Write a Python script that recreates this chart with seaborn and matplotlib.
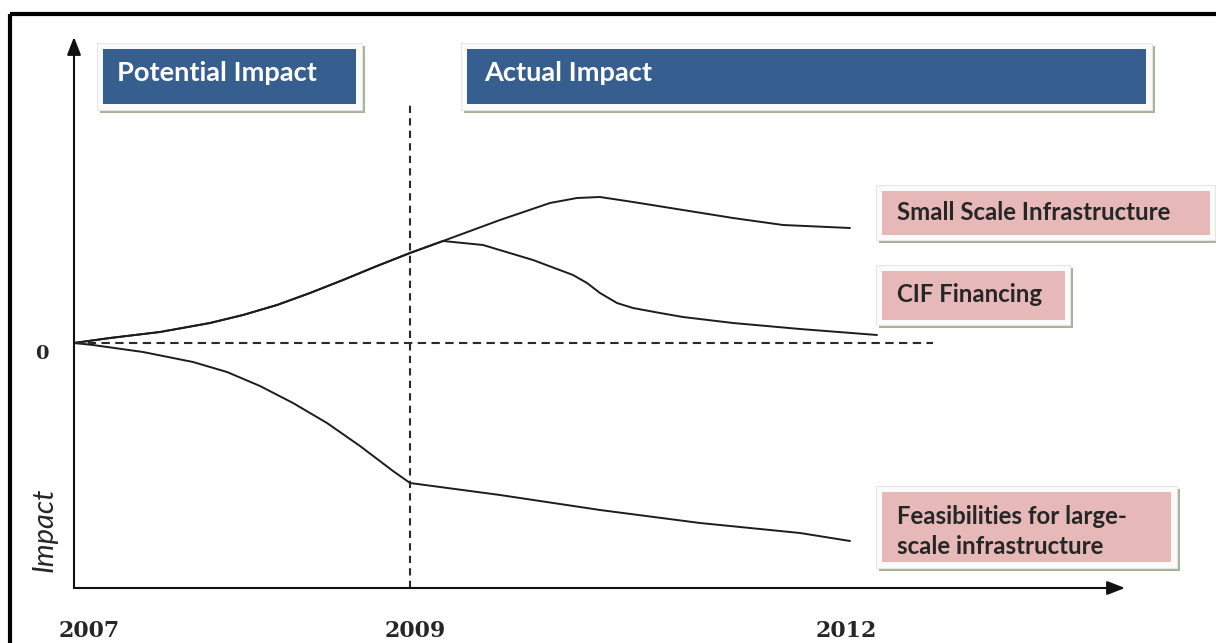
import matplotlib
matplotlib.use("Agg")
import matplotlib.pyplot as plt
from matplotlib.patches import Rectangle
from matplotlib.transforms import Affine2D
import numpy as np
import pandas as pd
import seaborn as sns

# ---- data: conceptual impact paths over time (t = time units from 2007) ----
small_t = [0, 0.36, 0.86, 1.36, 1.69, 2.03, 2.36, 2.69, 3.03, 3.36, 3.69,
           4.26, 4.76, 5.03, 5.26, 5.59, 6.09, 6.59, 7.09, 7.76]
small_v = [0, 0.05, 0.11, 0.20, 0.28, 0.38, 0.50, 0.63, 0.77, 0.90, 1.02,
           1.23, 1.40, 1.45, 1.46, 1.41, 1.33, 1.25, 1.18, 1.15]

cif_t = [0, 0.36, 0.86, 1.36, 1.69, 2.03, 2.36, 2.69, 3.03, 3.36, 3.69,
         4.09, 4.59, 4.99, 5.13, 5.26, 5.43, 5.59, 5.86, 6.09, 6.59, 7.26, 8.03]
cif_v = [0, 0.05, 0.11, 0.20, 0.28, 0.38, 0.50, 0.63, 0.77, 0.90, 1.02,
         0.98, 0.83, 0.68, 0.60, 0.50, 0.40, 0.35, 0.30, 0.26, 0.20, 0.14, 0.08]

feas_t = [0, 0.19, 0.69, 1.19, 1.53, 1.86, 2.19, 2.53, 2.86, 3.19, 3.36,
          4.26, 5.26, 6.26, 7.26, 7.76]
feas_v = [0, -0.02, -0.09, -0.19, -0.29, -0.43, -0.60, -0.80, -1.03, -1.28,
          -1.40, -1.52, -1.67, -1.80, -1.90, -1.98]

series_names = ["Small Scale Infrastructure", "CIF Financing",
                "Feasibilities for large-\nscale infrastructure"]
year_labels = ["2007", "2009", "2012"]
year_pos = [0.15, 3.41, 7.72]
split_t = 3.36          # 2009: potential -> actual
axis_x_end = 10.51
axis_y_top = 3.06
axis_y_bottom = -2.45
zero_end = 8.59

df = pd.concat([
    pd.DataFrame({"t": small_t, "impact": small_v, "series": series_names[0]}),
    pd.DataFrame({"t": cif_t, "impact": cif_v, "series": series_names[1]}),
    pd.DataFrame({"t": feas_t, "impact": feas_v, "series": series_names[2]}),
], ignore_index=True)

sns.set_theme(style="white")
plt.rcParams["font.family"] = ["Lato", "DejaVu Sans"]

W, H = 1216, 643
fig = plt.figure(figsize=(W / 100, H / 100), dpi=100)
ax = fig.add_axes([0, 0, 1, 1])
ax.set_xlim(-0.74, 11.42)
ax.set_ylim(-3.00, 3.43)
ax.axis("off")

# pixel-space transform for the framing and annotation boxes
px = Affine2D().scale(1 / W, -1 / H).translate(0, 1) + fig.transFigure

line_col = "#1c1c1c"
sns.lineplot(data=df, x="t", y="impact", hue="series", sort=False,
             palette={n: line_col for n in series_names}, legend=False,
             linewidth=1.4, ax=ax, estimator=None)

# reference lines
ax.plot([0, zero_end], [0, 0], color="#2a2a2a", lw=1.5, ls=(0, (4, 2.6)))
ax.plot([split_t, split_t], [axis_y_bottom, 2.41], color="#2a2a2a", lw=1.5,
        ls=(0, (3.5, 2.5)))

# axes with arrow heads
arrow = dict(arrowstyle="-|>,head_length=0.9,head_width=0.35", color="#111111",
             lw=1.5, shrinkA=0, shrinkB=0)
ax.annotate("", xy=(axis_x_end, axis_y_bottom), xytext=(0, axis_y_bottom),
            arrowprops=arrow)
ax.annotate("", xy=(0, axis_y_top), xytext=(0, axis_y_bottom),
            arrowprops=arrow)

# outer black frame
fig.patches.append(Rectangle((10, 13.5), 1300, 700, transform=px, fill=False,
                             edgecolor="black", lw=3.0))


def label_box(x0, y0, x1, y1, inset, face, text, tcolor, size, weight,
              tx, lines_y):
    # drop shadow, white mat, coloured panel, then text
    fig.patches.append(Rectangle((x0 + 3, y0 + 3), x1 - x0, y1 - y0,
                                 transform=px, facecolor="#a7b396",
                                 edgecolor="none"))
    fig.patches.append(Rectangle((x0, y0), x1 - x0, y1 - y0, transform=px,
                                 facecolor="#fbfbfb", edgecolor="#e6e6e6",
                                 lw=0.8))
    fig.patches.append(Rectangle((x0 + inset, y0 + inset),
                                 x1 - x0 - 2 * inset, y1 - y0 - 2 * inset,
                                 transform=px, facecolor=face,
                                 edgecolor="none"))
    for s, yy in zip(text.split("\n"), lines_y):
        fig.text(tx, yy, s, transform=px, color=tcolor, fontsize=size,
                 fontweight=weight, ha="left", va="center")


blue = "#365e8f"
pink = "#e6b8b7"
label_box(97, 43, 362, 110, 6, blue, "Potential Impact", "white", 19.6,
          "bold", 117, [73])
label_box(461, 43, 1152, 110, 6, blue, "Actual Impact", "white", 19.6,
          "bold", 484, [73])
label_box(876, 185, 1215, 240, 5.5, pink, series_names[0], "#262626", 17.3,
          "bold", 897, [213])
label_box(876, 265, 1070, 325, 5.5, pink, series_names[1], "#262626", 17.3,
          "bold", 897, [295])
label_box(876, 486, 1177, 568, 6, pink, series_names[2], "#262626", 17.3,
          "bold", 897, [517, 546])

# axis annotations
for lab, pos in zip(year_labels, year_pos):
    ax.text(pos, -2.88, lab, ha="center", va="center", fontsize=15.8,
            fontweight="bold", family="DejaVu Serif", color="#262626")
ax.text(-0.32, -0.11, "0", ha="center", va="center", fontsize=14,
        fontweight="bold", family="DejaVu Serif", color="#262626")
ax.text(-0.29, -1.87, "Impact", ha="center", va="center", rotation=90,
        fontsize=21, style="italic", color="#262626")

fig.savefig("out.png", dpi=100)
